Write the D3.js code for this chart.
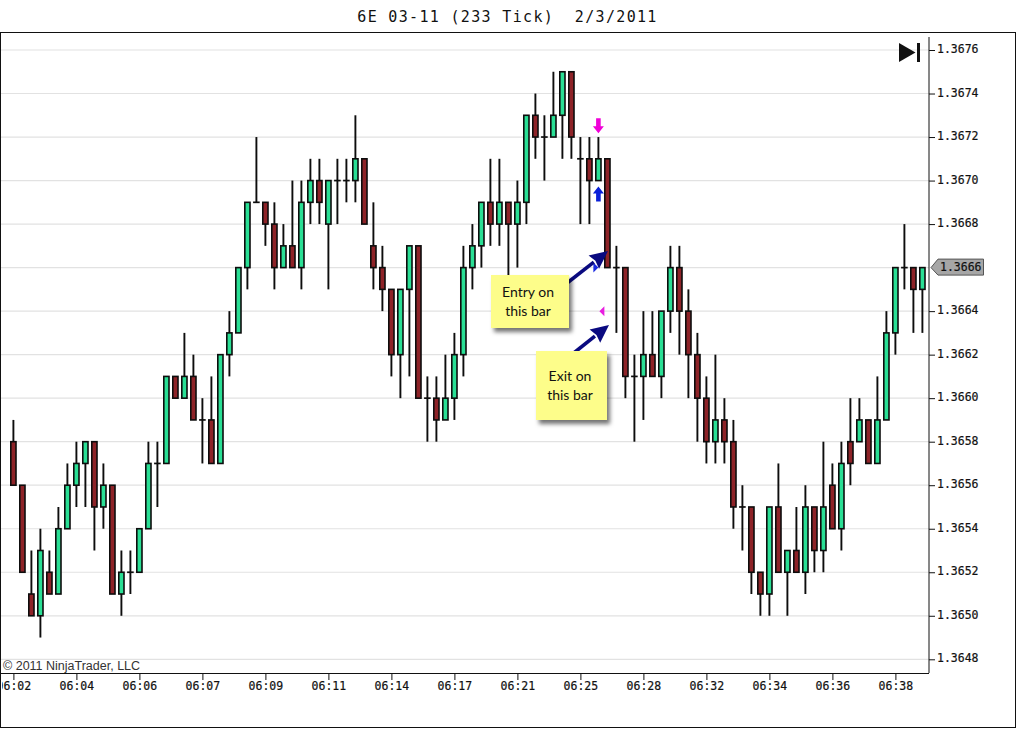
<!DOCTYPE html>
<html><head><meta charset="utf-8">
<script src="https://cdnjs.cloudflare.com/ajax/libs/d3/7.8.5/d3.min.js"></script>
<style>
html,body{margin:0;padding:0;background:#fff;overflow:hidden}
svg{display:block}
.mono{font-family:"DejaVu Sans Mono",monospace;font-size:11.5px;fill:#111;stroke:#111;stroke-width:.2px}
</style></head><body>
<svg id="c" width="1016" height="729"></svg>
<script>
const titleText = "6E 03-11 (233 Tick)  2/3/2011";
const copyrightText = "© 2011 NinjaTrader, LLC";
const lastPrice = 1.3666;
const priceTicks = [1.3648,1.3650,1.3652,1.3654,1.3656,1.3658,1.3660,1.3662,1.3664,1.3666,1.3668,1.3670,1.3672,1.3674,1.3676];
const timeTickBars = [0,7,14,21,28,35,42,49,56,63,70,77,84,91,98];
const timeTickLabels = ["06:02","06:04","06:06","06:07","06:09","06:11","06:14","06:17","06:21","06:25","06:28","06:32","06:34","06:36","06:38"];
// price values in 1/10000 above 1.3600
const opens  = [58,56,51,50,52,51,54,56,57,58,55,56,51,52,52,54,57,57,61,60,61,59,59,57,62,63,66,69,69,68,66,67,66,69,70,68,70,70,70,71,67,66,65,62,65,67,60,60,59,60,62,66,67,69,68,69,68,69,73,72,72,73,75,71,71,70,71,66,66,61,61,62,61,64,66,64,62,60,58,59,58,55,55,52,51,55,52,53,52,55,53,56,54,58,58,59,57,59,63,66,66,65];
const highs  = [59,56,53,54,53,55,57,58,58,58,57,56,53,53,54,58,58,61,61,63,62,60,61,62,64,66,69,72,69,69,68,70,70,71,71,70,71,71,73,71,69,67,65,65,67,67,61,61,62,63,67,68,69,71,71,69,70,73,74,73,75,75,75,72,72,72,71,67,66,62,64,64,64,67,67,65,63,61,62,60,59,56,55,52,55,57,53,55,56,55,58,57,58,60,60,59,61,64,66,68,66,66];
const lows   = [56,52,50,49,51,51,54,55,55,53,54,51,50,51,52,54,55,57,60,60,59,57,57,57,61,63,65,69,67,65,66,66,65,68,68,65,68,69,69,68,65,64,61,60,61,60,58,58,59,59,61,65,66,67,67,65,66,68,71,70,72,71,71,68,68,70,66,63,60,58,59,61,60,63,62,60,58,57,57,57,54,53,51,50,50,52,50,52,51,52,52,54,53,56,58,57,57,59,62,65,63,63];
const closes = [56,52,50,53,51,54,56,57,58,55,56,51,52,52,54,57,57,61,60,61,59,59,57,62,63,66,69,69,68,66,67,66,69,70,69,70,70,70,71,68,66,65,62,65,67,60,60,59,60,62,66,67,69,68,69,68,69,73,72,72,73,75,72,71,70,71,66,66,61,61,62,61,64,66,64,62,60,58,59,58,55,55,52,51,55,52,53,52,55,53,55,54,57,57,59,57,59,63,66,66,65,66];
const base = 1.36, unit = 0.0001;
const price = v => base + v*unit;
const bars = opens.map((o,i)=>({i,o:price(o),h:price(highs[i]),l:price(lows[i]),c:price(closes[i])}));

const GREEN="#2adf95", RED="#8e2328", INK="#0d0d0d", GRID="#e2e2e2", PANEL=929;
const svg=d3.select("#c");
const x=d3.scaleLinear().domain([0,101]).range([13.4,922.4]);
const y=d3.scaleLinear().domain([1.3648,1.3676]).range([659.3,50]);

// title
svg.append("text").attr("x",507.5).attr("y",22).attr("text-anchor","middle")
  .attr("font-family","'DejaVu Sans Mono',monospace").attr("font-size",15).attr("letter-spacing",1.33)
  .style("white-space","pre").attr("fill","#111").text(titleText);

// grid
svg.append("g").selectAll("line").data(priceTicks).join("line")
  .attr("x1",1).attr("x2",PANEL).attr("y1",d=>y(d)).attr("y2",d=>y(d))
  .attr("stroke",GRID).attr("stroke-width",1.2);

// candles
const candle=svg.append("g").selectAll("g").data(bars).join("g");
candle.append("line").attr("x1",d=>x(d.i)).attr("x2",d=>x(d.i))
  .attr("y1",d=>y(d.h)).attr("y2",d=>y(d.l)).attr("stroke",INK).attr("stroke-width",1.9);
candle.filter(d=>d.o!==d.c).append("rect")
  .attr("x",d=>x(d.i)-2.6).attr("width",5.2)
  .attr("y",d=>y(Math.max(d.o,d.c))).attr("height",d=>Math.abs(y(d.o)-y(d.c)))
  .attr("fill",d=>d.c>d.o?GREEN:RED).attr("stroke",INK).attr("stroke-width",1.6);
candle.filter(d=>d.o===d.c).append("line")
  .attr("x1",d=>x(d.i)-3.3).attr("x2",d=>x(d.i)+3.3)
  .attr("y1",d=>y(d.o)).attr("y2",d=>y(d.o)).attr("stroke",INK).attr("stroke-width",1.7);

// trade markers (placed from bar index & price)
function vArrow(i,p,dir,col){
  const cx=x(i), cy=y(p);
  svg.append("path").attr("d",d3.line()([[cx-2.3,cy-8*dir],[cx+2.3,cy-8*dir],[cx+2.3,cy],[cx+5.5,cy],[cx,cy+7*dir],[cx-5.5,cy],[cx-2.3,cy]]))
    .attr("fill",col);
}
vArrow(65,1.36725,1,"#f000d8");
vArrow(65,1.36694,-1,"#0a20d8");
const entryMark=[x(65)-2,y(1.3666)], exitMark=[x(65)+3,y(1.3664)];
svg.append("path").attr("d",`M${entryMark[0]-3},${entryMark[1]-5}L${entryMark[0]+2},${entryMark[1]}L${entryMark[0]-3},${entryMark[1]+5}Z`).attr("fill","#1a2ae0");
svg.append("path").attr("d",`M${exitMark[0]+3},${exitMark[1]-5}L${exitMark[0]-2},${exitMark[1]}L${exitMark[0]+3},${exitMark[1]+5}Z`).attr("fill","#e81ee0");

// annotations
const defs=svg.append("defs");
const f=defs.append("filter").attr("id","sh").attr("x","-20%").attr("y","-20%").attr("width","150%").attr("height","150%");
f.append("feDropShadow").attr("dx",3).attr("dy",4).attr("stdDeviation",2.2).attr("flood-color","#000").attr("flood-opacity",.55);
defs.append("clipPath").attr("id","xclip").append("rect").attr("x",2).attr("y",660).attr("width",940).attr("height",40);
function callout(rx,ry,rw,rh,lines,cx,tail,tip,ly){
  const a=Math.atan2(tip[1]-tail[1],tip[0]-tail[0]),L=18,W=8.5;
  const bx=tip[0]-L*Math.cos(a),by=tip[1]-L*Math.sin(a);
  const nx=-Math.sin(a),ny=Math.cos(a);
  svg.append("line").attr("x1",tail[0]).attr("y1",tail[1]).attr("x2",bx).attr("y2",by).attr("stroke","#0a0a80").attr("stroke-width",3.6);
  svg.append("path").attr("d",`M${tip}L${bx+nx*W},${by+ny*W}L${bx+2*Math.cos(a)},${by+2*Math.sin(a)}L${bx-nx*W},${by-ny*W}Z`).attr("fill","#0a0a80");
  svg.append("rect").attr("x",rx).attr("y",ry).attr("width",rw).attr("height",rh).attr("fill","#fdfd8a").attr("filter","url(#sh)");
  lines.forEach((t,k)=>svg.append("text").attr("x",cx).attr("y",ly[k]).attr("text-anchor","middle")
    .attr("font-family","Lato,sans-serif").attr("font-size",14).attr("fill","#111").text(t));
}
callout(491,275,78,53,["Entry on","this bar"],528,[562,287],[608,251],[297,316]);
callout(536,351,71,69,["Exit on","this bar"],570,[570,356],[609,325],[381,400]);

// end-of-chart icon
svg.append("path").attr("d","M899,43L915.5,52.5L899,62Z").attr("fill","#111");
svg.append("rect").attr("x",917).attr("y",43).attr("width",3).attr("height",19).attr("fill","#111");

// axes
const yAxis=d3.axisRight(y).tickValues(priceTicks).tickFormat(d3.format(".4f")).tickSize(6).tickPadding(2);
const gy=svg.append("g").attr("transform",`translate(${PANEL},0)`).call(yAxis);
gy.select(".domain").remove();
gy.selectAll(".tick").filter(d=>d===lastPrice).remove();
gy.selectAll("line").attr("stroke","#111").attr("stroke-width",1);
gy.selectAll("text").attr("class","mono").attr("dy","0.32em").attr("transform","translate(0,-1)");
svg.append("line").attr("x1",PANEL).attr("x2",PANEL).attr("y1",37).attr("y2",673).attr("stroke","#111").attr("stroke-width",1);

const xAxis=d3.axisBottom(x).tickValues(timeTickBars).tickFormat((d,k)=>timeTickLabels[k]).tickSize(7).tickPadding(2);
const gxWrap=svg.append("g").attr("clip-path","url(#xclip)");
const gx=gxWrap.append("g").attr("transform","translate(0,673)").call(xAxis);
gx.select(".domain").remove();
gx.selectAll("line").attr("stroke","#111").attr("stroke-width",1);
gx.selectAll("text").attr("class","mono");
svg.append("line").attr("x1",0).attr("x2",PANEL).attr("y1",673.5).attr("y2",673.5).attr("stroke","#111").attr("stroke-width",1);

// last price flag
const ly=y(lastPrice);
svg.append("path").attr("d",d3.line()([[931,ly],[938,ly-8.5],[983.5,ly-8.5],[983.5,ly+7.5],[938,ly+7.5],[931,ly]]))
  .attr("fill","#a6a6a6").attr("stroke","#555").attr("stroke-width",1);
svg.append("text").attr("class","mono").attr("x",940).attr("y",ly+3.2).text(d3.format(".4f")(lastPrice));

// copyright
svg.append("text").attr("x",3).attr("y",670).attr("font-family","'Liberation Sans',Arial,sans-serif")
  .attr("font-size",12.5).attr("fill","#333").text(copyrightText);

// frame
svg.append("rect").attr("x",.5).attr("y",32.5).attr("width",1015).attr("height",695).attr("fill","none").attr("stroke","#111").attr("stroke-width",1);
</script>
</body></html>
